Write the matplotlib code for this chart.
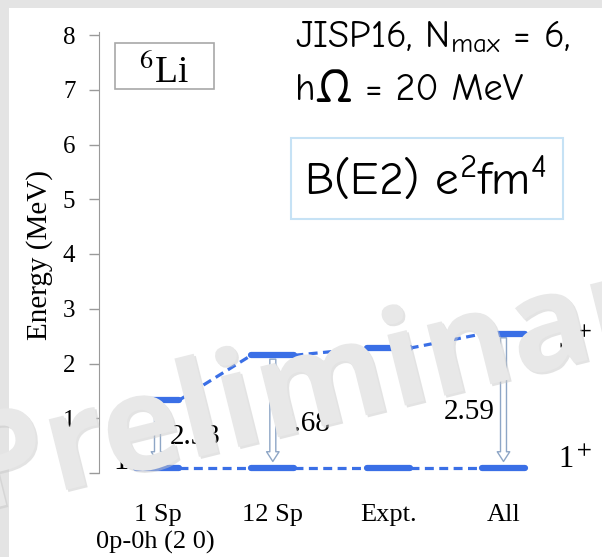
import matplotlib

matplotlib.use("Agg")
import matplotlib.pyplot as plt
from matplotlib import patheffects as pe
from matplotlib.patches import FancyArrowPatch, Rectangle

W, H = 602, 557

# 6Li: 1+ ground state and first 3+ state, B(E2) in e^2 fm^4
calcs = ["1 Sp", "12 Sp", "Expt.", "All"]
sub_label = "0p-0h (2 0)"
e_ground = [0.1, 0.1, 0.1, 0.1]
e_excited = [1.33, 2.15, 2.28, 2.54]
be2 = [2.33, 2.68, None, 2.59]
yticks = [0, 1, 2, 3, 4, 5, 6, 7, 8]

# where each B(E2) label sits (x offset from column, energy, alignment)
be2_pos = [(0.11, 0.66, "left"), (0.06, 0.89, "left"), None, (-0.08, 1.11, "right")]

BLUE = "#3a6fe6"
ARROW_EC = "#8ea6c6"
SERIF = "Liberation Serif"
COMIC = ["Comic Neue", "Comic Relief", "DejaVu Sans"]
HW = 0.187  # half width of a level bar, data units

plt.rcParams["mathtext.fontset"] = "custom"
plt.rcParams["mathtext.rm"] = "Comic Neue"
plt.rcParams["mathtext.it"] = "Comic Neue"


def fx(px):
    return px / W


def fy(py):
    return 1 - py / H


fig = plt.figure(figsize=(W / 100, H / 100), dpi=100, facecolor="#e4e4e4")
fig.patches.append(Rectangle((fx(9), 0), 1, fy(8), transform=fig.transFigure,
                             facecolor="white", edgecolor="none", zorder=-10))

ax = fig.add_axes([fx(99), fy(473), fx(602) - fx(99), fy(35) - fy(473)])
ax.set_xlim(-0.507, 3.854)
ax.set_ylim(0, 8)
ax.patch.set_visible(False)
for s in ["top", "right", "bottom"]:
    ax.spines[s].set_visible(False)
ax.spines["left"].set_color("#9a9a9a")
ax.spines["left"].set_bounds(0, 8.05)
ax.set_yticks(yticks)
ax.set_xticks([])
ax.tick_params(axis="y", direction="out", length=7, width=1, color="#9a9a9a",
               labelsize=18, pad=10)
for lab in ax.get_yticklabels():
    lab.set_fontfamily(SERIF)

fig.text(fx(40), fy(255), "Energy (MeV)", rotation=90, ha="center", va="center",
         fontsize=21, family=SERIF)

# levels, connectors, arrows
for i, (eg, ee) in enumerate(zip(e_ground, e_excited)):
    for e in (eg, ee):
        ax.plot([i - HW, i + HW], [e, e], color=BLUE, lw=4.5, solid_capstyle="round", zorder=3)
    if i < len(calcs) - 1:
        ax.plot([i + HW, i + 1 - HW], [eg, e_ground[i + 1]], color=BLUE, lw=2.3,
                dashes=(2.8, 1.7), zorder=3)
        ax.plot([i + HW, i + 1 - HW], [ee, e_excited[i + 1]], color=BLUE, lw=2.3,
                dashes=(2.8, 1.7), zorder=3)
    if be2[i] is not None:
        arr = FancyArrowPatch((i, ee - 0.02), (i, eg + 0.06),
                              arrowstyle="simple,head_length=7,head_width=9,tail_width=4.3",
                              mutation_scale=1, fc="white", ec=ARROW_EC, lw=1, zorder=2)
        ax.add_patch(arr)
        dx, ey, ha = be2_pos[i]
        ax.text(i + dx, ey, f"{be2[i]:.2f}", ha=ha, va="center", fontsize=21, family=SERIF)
    ax.text(i, -0.77, calcs[i], ha="center", va="center", fontsize=19, family=SERIF)

ax.text(-0.02, -1.26, sub_label, ha="center", va="center", fontsize=19, family=SERIF)

# spin labels
ax.text(3.47, 0.09, "1$^+$", ha="left", va="baseline", fontsize=22, family=SERIF,
        math_fontfamily="stix")
ax.text(3.47, 2.26, "3$^+$", ha="left", va="baseline", fontsize=22, family=SERIF,
        math_fontfamily="stix")
ax.text(-0.386, 0.07, "1", ha="left", va="baseline", fontsize=22, family=SERIF)

# boxes and annotations
fig.patches.append(Rectangle((fx(115), fy(89)), fx(214) - fx(115), fy(43) - fy(89),
                             transform=fig.transFigure, facecolor="white",
                             edgecolor="#a8a8a8", lw=1.2))
fig.text(fx(164), fy(83), "$^{6}$Li", ha="center", va="baseline", fontsize=27,
         family=SERIF, math_fontfamily="stix")

fig.text(fx(295), fy(47), r"JISP16, N$_{\rm max}$ = 6,", ha="left", va="baseline",
         fontsize=27.5, family=COMIC, math_fontfamily="custom")
fig.text(fx(295), fy(100), "hΩ = 20 MeV", ha="left", va="baseline",
         fontsize=27.5, family=COMIC)

fig.patches.append(Rectangle((fx(291), fy(219)), fx(563) - fx(291), fy(138) - fy(219),
                             transform=fig.transFigure, facecolor="white",
                             edgecolor="#c6e2f5", lw=1.5))
fig.text(fx(425), fy(195), r"B(E2) e$^{\rm 2}$fm$^{\rm 4}$", ha="center", va="baseline",
         fontsize=34, family=COMIC, math_fontfamily="custom")

# watermark
fig.text(fx(-25), fy(512.7), "Preliminary", rotation=14, rotation_mode="anchor",
         ha="left", va="baseline", fontsize=96, family="Open Sans",
         weight="bold", color="#e8e8e8", zorder=10,
         path_effects=[pe.SimplePatchShadow(offset=(1.5, -1.5), shadow_rgbFace="#c8c8c8", alpha=0.5),
                       pe.Normal()])

fig.savefig("out.png", dpi=100, facecolor=fig.get_facecolor())
